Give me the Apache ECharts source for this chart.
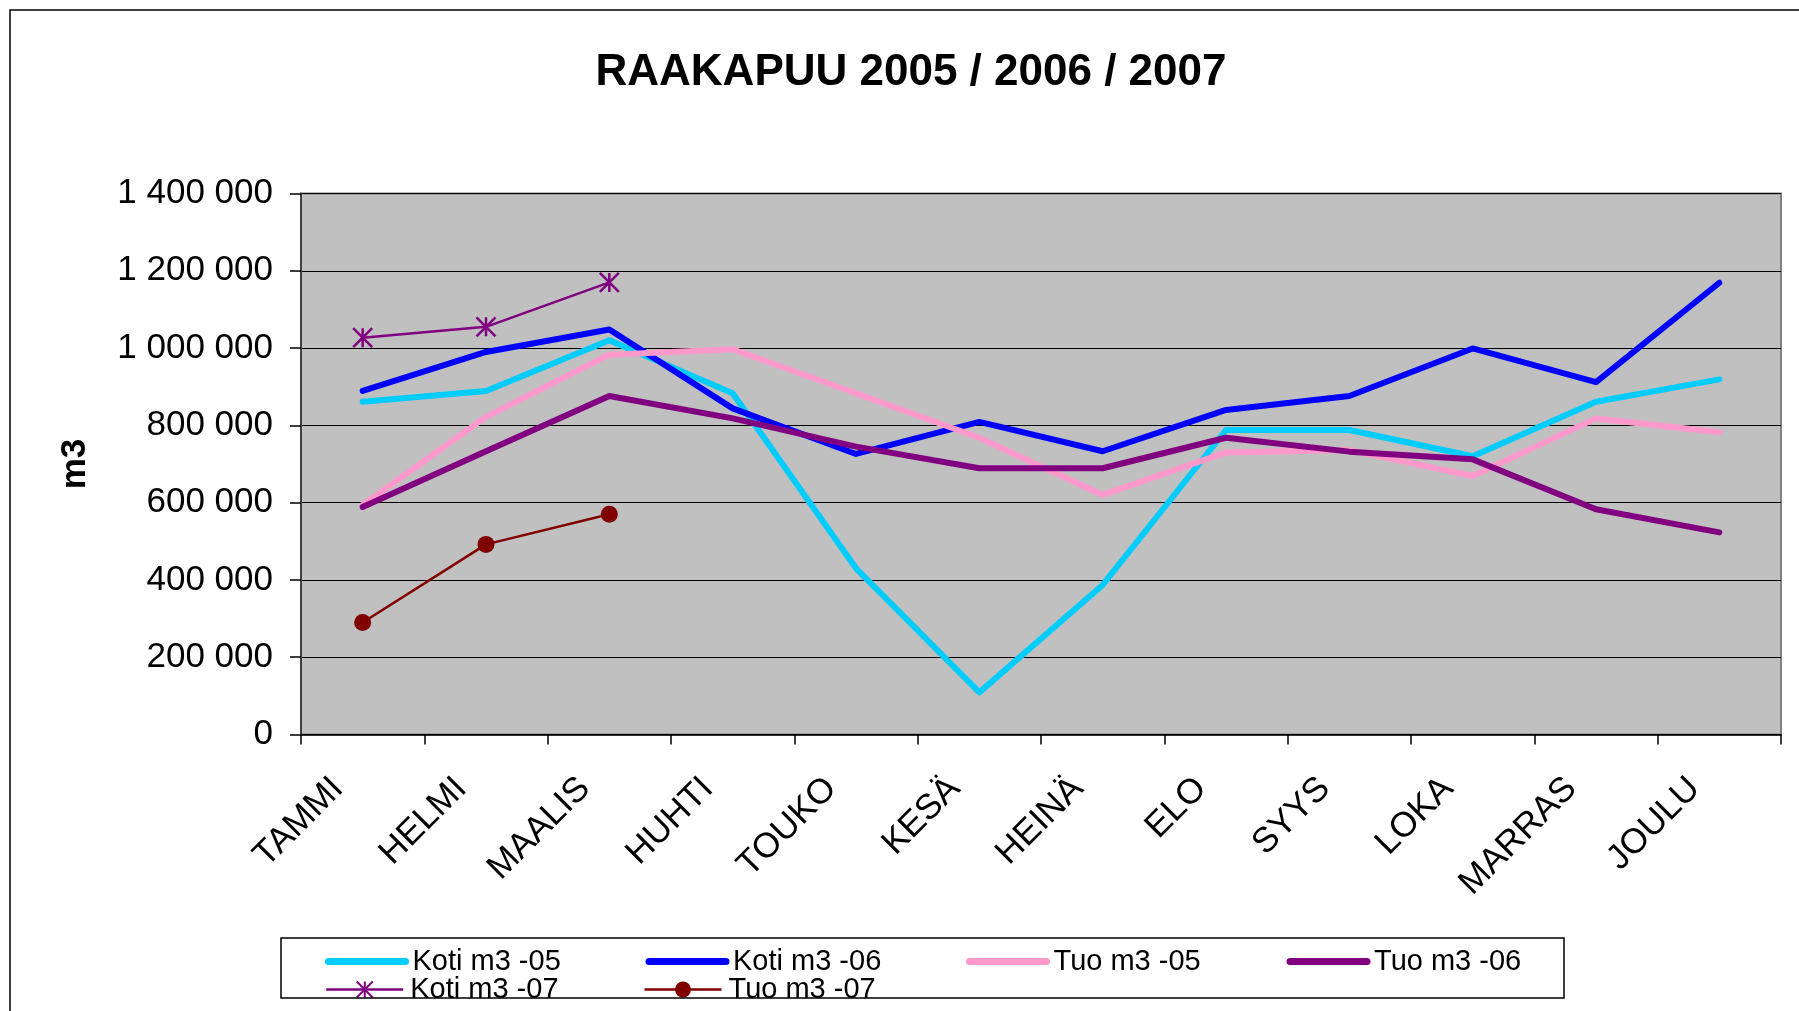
<!DOCTYPE html>
<html>
<head>
<meta charset="utf-8">
<script src="https://cdn.jsdelivr.net/npm/echarts@6/dist/echarts.min.js"></script>
<style>
html,body{margin:0;padding:0;background:#fff;}
#chart{width:1799px;height:1011px;}
</style>
</head>
<body>
<div id="chart"></div>
<script>
var categories = ['TAMMI','HELMI','MAALIS','HUHTI','TOUKO','KESÄ','HEINÄ','ELO','SYYS','LOKA','MARRAS','JOULU'];
var koti05 = [861000, 889000, 1020000, 883000, 430000, 109000, 387000, 788000, 788000, 720000, 861000, 919000];
var koti06 = [889000, 990000, 1048000, 844000, 726000, 809000, 733000, 840000, 876000, 999000, 912000, 1169000];
var tuo05  = [594000, 822000, 983000, 997000, 883000, 768000, 620000, 730000, 736000, 669000, 818000, 782000];
var tuo06  = [589000, 733000, 876000, 818000, 745000, 689000, 689000, 768000, 732000, 712000, 583000, 523000];
var koti07 = [1027000, 1055000, 1170000, null, null, null, null, null, null, null, null, null];
var tuo07  = [290000, 492000, 570000, null, null, null, null, null, null, null, null, null];
var seriesNames = ['Koti m3 -05','Koti m3 -06','Tuo m3 -05','Tuo m3 -06','Koti m3 -07','Tuo m3 -07'];
var yTicks = [0, 200000, 400000, 600000, 800000, 1000000, 1200000, 1400000];

var FONT = "'Liberation Sans', Arial, sans-serif";
function fmt(v){ return String(v).replace(/\B(?=(\d{3})+(?!\d))/g, ' '); }

function mainLine(name, data, color){
  return {
    name: name, type: 'line', data: data, symbol: 'none', connectNulls: false,
    lineStyle: {color: color, width: 6, cap: 'round', join: 'round'},
    itemStyle: {color: color}, animation: false
  };
}

var legendRow1 = [
  {name: seriesNames[0], itemStyle: {opacity: 0}, lineStyle: {width: 7}},
  {name: seriesNames[1], itemStyle: {opacity: 0}, lineStyle: {width: 7}},
  {name: seriesNames[2], itemStyle: {opacity: 0}, lineStyle: {width: 7}},
  {name: seriesNames[3], itemStyle: {opacity: 0}, lineStyle: {width: 7}}
];
var legendRow2 = [
  {name: seriesNames[4], lineStyle: {width: 2.5}},
  {name: seriesNames[5], lineStyle: {width: 2.5}}
];

function legendCfg(data, top, ih){
  return {
    left: 325, top: top, width: 1300,
    itemWidth: 77, itemHeight: ih, itemGap: 4,
    padding: 0,
    data: data,
    textStyle: {fontFamily: FONT, fontSize: 29, color: '#000', lineHeight: 22, width: 229, padding: [0,0,0,2]}
  };
}

var chart = echarts.init(document.getElementById('chart'), null, {renderer: 'canvas'});
chart.setOption({
  backgroundColor: '#ffffff',
  animation: false,
  textStyle: {fontFamily: FONT},
  title: {
    text: 'RAAKAPUU 2005 / 2006 / 2007',
    left: 906, top: 46, textAlign: 'center',
    textStyle: {fontFamily: FONT, fontSize: 44, fontWeight: 'bold', color: '#000'}
  },
  grid: {
    left: 301, top: 193.5, right: 18, bottom: 276.5,
    show: true, backgroundColor: '#C0C0C0', borderColor: '#808080', borderWidth: 2
  },
  legend: [legendCfg(legendRow1, 947, 16), legendCfg(legendRow2, 975, 20)],
  xAxis: {
    type: 'category', data: categories, boundaryGap: true,
    axisLine: {show: true, lineStyle: {color: '#000', width: 1.5}},
    axisTick: {show: true, length: 10, lineStyle: {color: '#000', width: 1.5}},
    axisLabel: {rotate: 45, margin: 24, fontSize: 35, color: '#000', fontFamily: FONT, interval: 0, padding: [0, 35, 0, 0]},
    splitLine: {show: false}
  },
  yAxis: {
    type: 'value', min: 0, max: 1400000, interval: 200000,
    name: 'm3', nameLocation: 'middle', nameGap: 208,
    nameTextStyle: {fontFamily: FONT, fontSize: 35, fontWeight: 'bold', color: '#000'},
    axisLine: {show: true, lineStyle: {color: '#404040', width: 2}},
    axisTick: {show: true, length: 11, lineStyle: {color: '#000', width: 1.5}},
    axisLabel: {margin: 28, fontSize: 35, color: '#000', fontFamily: FONT, formatter: function(v){ return fmt(v); }},
    splitLine: {show: true, lineStyle: {color: '#000', width: 1.2}}
  },
  series: [
    mainLine(seriesNames[0], koti05, '#00CCFF'),
    mainLine(seriesNames[1], koti06, '#0000FF'),
    mainLine(seriesNames[2], tuo05, '#FF99CC'),
    mainLine(seriesNames[3], tuo06, '#800080'),
    {
      name: seriesNames[4], type: 'line', data: koti07,
      symbol: 'path://M0,0L10,10M10,0L0,10M5,0L5,10', symbolSize: 19, showSymbol: true,
      lineStyle: {color: '#800080', width: 2.5},
      itemStyle: {color: '#800080', borderColor: '#800080', borderWidth: 2.5}
    },
    {
      name: seriesNames[5], type: 'line', data: tuo07,
      symbol: 'circle', symbolSize: 17, showSymbol: true,
      lineStyle: {color: '#800000', width: 2.5},
      itemStyle: {color: '#800000', borderWidth: 0}
    }
  ],
  graphic: [
    {type: 'rect', z: 100, silent: true, shape: {x: 270, y: 999, width: 1310, height: 20}, style: {fill: '#ffffff', stroke: null}},
    {type: 'rect', z: 101, silent: true, shape: {x: 281, y: 938, width: 1283, height: 60}, style: {fill: null, stroke: '#000', lineWidth: 1.5}},
    {type: 'rect', z: 101, silent: true, shape: {x: 10, y: 10, width: 2000, height: 2000}, style: {fill: null, stroke: '#000', lineWidth: 1.5}}
  ]
});
</script>
</body>
</html>
